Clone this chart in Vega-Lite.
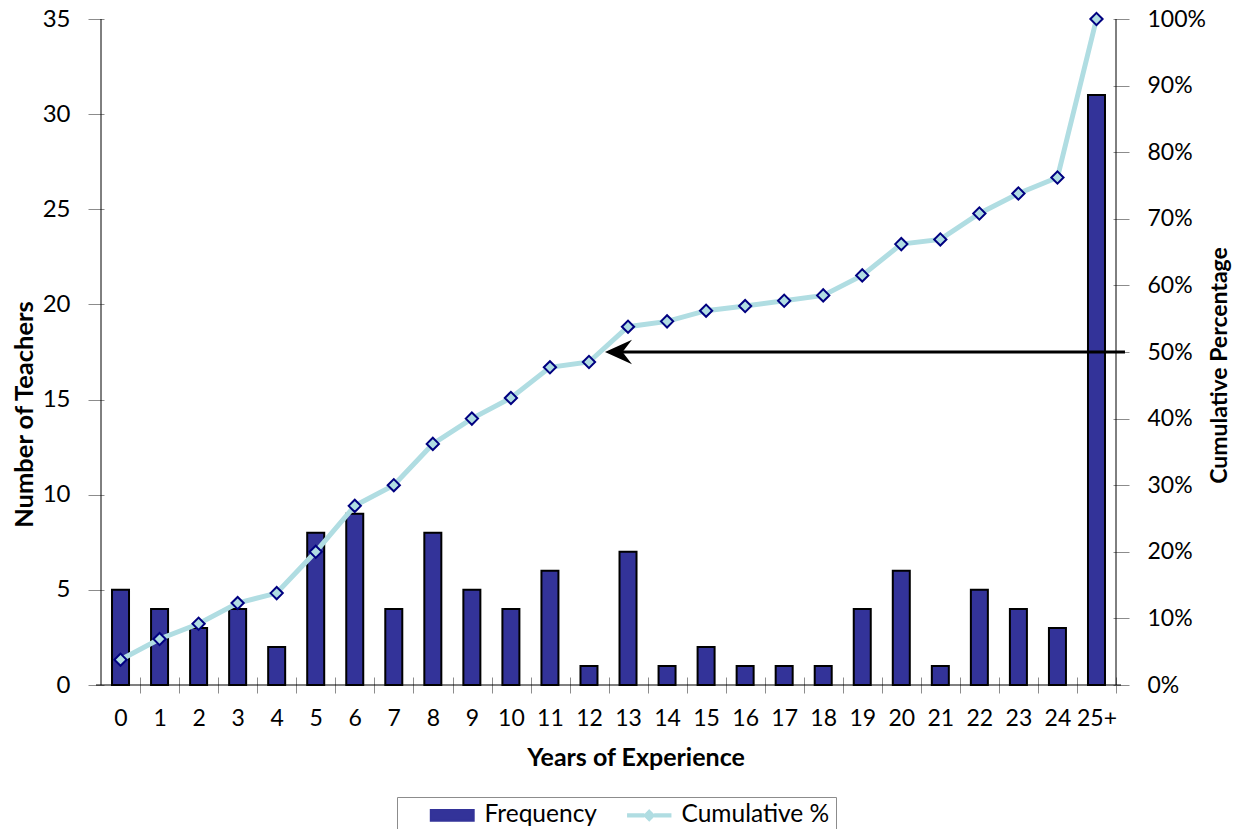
{
  "$schema": "https://vega.github.io/schema/vega-lite/v6.json",
  "width": 1025,
  "height": 666,
  "autosize": {"type": "none"},
  "padding": {"left": 96, "top": 19, "right": 118, "bottom": 144},
  "background": "white",
  "config": {
    "font": "Lato",
    "view": {"stroke": null},
    "axis": {
      "labelFont": "Lato", "titleFont": "Lato", "labelFontSize": 23, "titleFontSize": 23,
      "titleFontWeight": "bold", "labelColor": "#000", "titleColor": "#000",
      "tickColor": "#8c8c8c", "tickWidth": 1, "grid": false, "domain": false,
      "tickSize": 16, "offset": -8, "labelFlush": false, "labelOverlap": false
    }
  },
  "data": {"values": [
    {"idx": 0, "years": "0", "freq": 5, "cum": 0.038},
    {"idx": 1, "years": "1", "freq": 4, "cum": 0.069},
    {"idx": 2, "years": "2", "freq": 3, "cum": 0.092},
    {"idx": 3, "years": "3", "freq": 4, "cum": 0.123},
    {"idx": 4, "years": "4", "freq": 2, "cum": 0.138},
    {"idx": 5, "years": "5", "freq": 8, "cum": 0.200},
    {"idx": 6, "years": "6", "freq": 9, "cum": 0.269},
    {"idx": 7, "years": "7", "freq": 4, "cum": 0.300},
    {"idx": 8, "years": "8", "freq": 8, "cum": 0.362},
    {"idx": 9, "years": "9", "freq": 5, "cum": 0.400},
    {"idx": 10, "years": "10", "freq": 4, "cum": 0.431},
    {"idx": 11, "years": "11", "freq": 6, "cum": 0.477},
    {"idx": 12, "years": "12", "freq": 1, "cum": 0.485},
    {"idx": 13, "years": "13", "freq": 7, "cum": 0.538},
    {"idx": 14, "years": "14", "freq": 1, "cum": 0.546},
    {"idx": 15, "years": "15", "freq": 2, "cum": 0.562},
    {"idx": 16, "years": "16", "freq": 1, "cum": 0.569},
    {"idx": 17, "years": "17", "freq": 1, "cum": 0.577},
    {"idx": 18, "years": "18", "freq": 1, "cum": 0.585},
    {"idx": 19, "years": "19", "freq": 4, "cum": 0.615},
    {"idx": 20, "years": "20", "freq": 6, "cum": 0.662},
    {"idx": 21, "years": "21", "freq": 1, "cum": 0.669},
    {"idx": 22, "years": "22", "freq": 5, "cum": 0.708},
    {"idx": 23, "years": "23", "freq": 4, "cum": 0.738},
    {"idx": 24, "years": "24", "freq": 3, "cum": 0.762},
    {"idx": 25, "years": "25+", "freq": 31, "cum": 1.0}
  ]},
  "layer": [
    {
      "layer": [
        {
          "mark": {"type": "bar", "width": 17, "stroke": "#000", "strokeWidth": 2},
          "encoding": {
            "x": {
              "field": "idx", "type": "quantitative",
              "scale": {"domain": [-0.5, 25.5], "nice": false, "zero": false},
              "axis": {
                "values": [0,1,2,3,4,5,6,7,8,9,10,11,12,13,14,15,16,17,18,19,20,21,22,23,24,25],
                "tickOffset": 19.71, "labelOffset": -19.71,
                "labelExpr": "datum.value == 25 ? '25+' : datum.label",
                "labelPadding": 14, "title": "Years of Experience", "titleX": 539.5,
                "titlePadding": 15, "titleFontSize": 25
              }
            },
            "y": {
              "field": "freq", "type": "quantitative",
              "scale": {"domain": [0, 35], "nice": false},
              "axis": {"values": [0,5,10,15,20,25,30,35], "title": "Number of Teachers", "labelPadding": 18, "titlePadding": 5, "titleY": 395, "titleFontSize": 25.5, "labelFontSize": 24}
            },
            "color": {
              "datum": "Frequency",
              "scale": {"domain": ["Frequency", "Cumulative %"], "range": ["#333399", "#b0dde2"]},
              "legend": {
                "orient": "none", "legendX": 301, "legendY": 778, "direction": "horizontal",
                "title": null,
                "labelFont": "Lato", "labelFontSize": 24.5, "labelColor": "#000",
                "strokeColor": "#8c8c8c", "padding": 6,
                "symbolSize": 169, "symbolOffset": 37, "labelOffset": 20,
                "columnPadding": 3, "symbolStrokeWidth": 1.5,
                "encoding": {
                  "symbols": {
                    "shape": {"value": {"expr": "datum.value === 'Frequency' ? 'M-3.3,-0.825H3.3V0.825H-3.3Z' : 'M-3.3,-0.22H-0.86V0.22H-3.3Z M0.86,-0.22H3.3V0.22H0.86Z M0,-0.8L0.8,0L0,0.8L-0.8,0Z'"}},
                    "fill": {"value": {"expr": "datum.value === 'Frequency' ? '#333399' : '#b0dde2'"}},
                    "stroke": {"value": {"expr": "datum.value === 'Frequency' ? '#000000' : {gradient: 'linear', x1: 0, y1: 0, x2: 1, y2: 0, stops: [{offset: 0, color: '#b0dde2'}, {offset: 0.38, color: '#b0dde2'}, {offset: 0.38, color: '#000080'}, {offset: 0.62, color: '#000080'}, {offset: 0.62, color: '#b0dde2'}, {offset: 1, color: '#b0dde2'}]}"}},
                    "strokeWidth": {"value": {"expr": "datum.value === 'Frequency' ? 2 : 1.5"}},
                    "opacity": {"value": 1}
                  }
                }
              }
            }
          }
        },
        {
          "data": {"values": [{}]},
          "mark": {"type": "rule", "color": "#000", "strokeWidth": 1},
          "encoding": {"x": {"datum": -0.5, "type": "quantitative"}}
        },
        {
          "data": {"values": [{}]},
          "mark": {"type": "rule", "color": "#000", "strokeWidth": 1},
          "encoding": {"x": {"datum": 25.5, "type": "quantitative"}}
        },
        {
          "data": {"values": [{}]},
          "mark": {"type": "rule", "color": "#000", "strokeWidth": 1},
          "encoding": {"y": {"datum": 0, "type": "quantitative"}}
        }
      ]
    },
    {
      "layer": [
        {
          "mark": {"type": "line", "strokeWidth": 5},
          "encoding": {
            "x": {"field": "idx", "type": "quantitative"},
            "y": {
              "field": "cum", "type": "quantitative",
              "scale": {"domain": [0, 1], "nice": false},
              "axis": {
                "orient": "right", "values": [0,0.1,0.2,0.3,0.4,0.5,0.6,0.7,0.8,0.9,1],
                "format": ".0%", "title": "Cumulative Percentage", "labelPadding": 18,
                "titleAngle": 270, "titleBaseline": "top", "titlePadding": 3, "titleY": 346
              }
            },
            "color": {"datum": "Cumulative %"}
          }
        },
        {
          "mark": {"type": "point", "shape": "diamond", "filled": true, "fill": "#b0dde2", "stroke": "#000080", "strokeWidth": 2, "size": 150, "opacity": 1},
          "encoding": {
            "x": {"field": "idx", "type": "quantitative"},
            "y": {"field": "cum", "type": "quantitative"}
          }
        },
        {
          "data": {"values": [{}]},
          "mark": {"type": "rule", "color": "#000", "strokeWidth": 3},
          "encoding": {
            "x": {"datum": 12.8, "type": "quantitative"},
            "x2": {"datum": 25.73},
            "y": {"datum": 0.5, "type": "quantitative"}
          }
        },
        {
          "data": {"values": [{}]},
          "mark": {"type": "point", "shape": "M0,0L2,-0.9L1.3,0L2,0.9Z", "filled": true, "fill": "#000", "stroke": null, "size": 729, "opacity": 1},
          "encoding": {
            "x": {"datum": 12.41, "type": "quantitative"},
            "y": {"datum": 0.5, "type": "quantitative"}
          }
        }
      ]
    }
  ],
  "resolve": {"scale": {"y": "independent"}}
}
